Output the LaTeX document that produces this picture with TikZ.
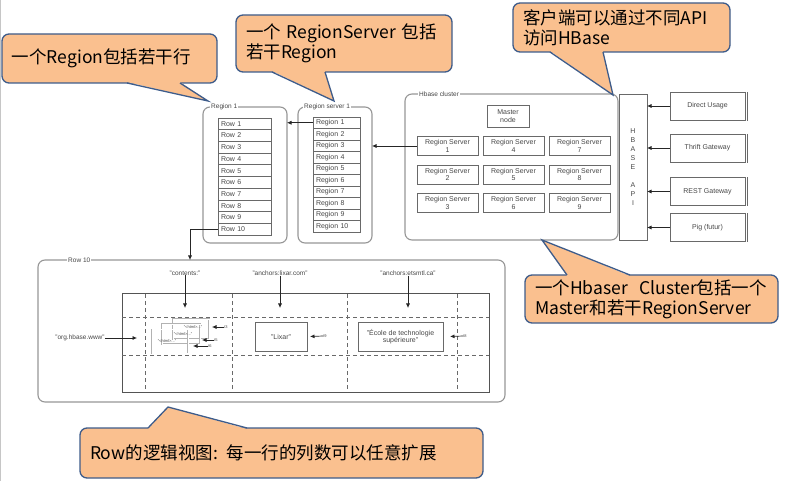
\documentclass[tikz,border=0pt]{standalone}
\usepackage{fontspec}
\setmainfont{Liberation Sans}
\newfontfamily\cjk{Noto Sans CJK SC}
\usetikzlibrary{arrows.meta,calc}

\definecolor{callfill}{RGB}{250,192,143}
\definecolor{callline}{RGB}{62,92,138}
\definecolor{frame}{RGB}{150,150,150}
\definecolor{cellline}{RGB}{105,105,105}
\definecolor{txt}{RGB}{70,70,70}

\begin{document}
\begin{tikzpicture}[x=1pt, y=-1pt,
    callout/.style={rectangle, rounded corners=7, fill=callfill, draw=callline, line width=1.3,
        inner xsep=10, inner ysep=0, outer sep=0, align=left, font=\cjk\fontsize{17.5}{20}\selectfont},
    tailfill/.style={fill=callfill},
    tailline/.style={draw=callline, line width=1.3, line join=miter},
    grp/.style={draw=frame, line width=1.1, rounded corners=7, inner sep=0, outer sep=0},
    grplabel/.style={fill=white, inner sep=1, anchor=west, text=txt, font=\fontsize{6.5}{7}\selectfont},
    cellbox/.style={draw=cellline, line width=0.7, inner sep=0, outer sep=0, text=txt, font=\fontsize{7}{7.5}\selectfont},
    listcell/.style={cellbox, anchor=north west, align=left, inner xsep=3},
    htmlbox/.style={draw=gray!60, double=white, double distance=0.6, line width=0.5, inner sep=0, outer sep=0},
    lbl/.style={inner sep=0, text=txt, font=\fontsize{6.5}{7}\selectfont},
    tiny/.style={inner sep=0, text=txt, font=\fontsize{4}{4.5}\selectfont},
    arr/.style={-{Latex[length=4.5,width=4]}, draw=black!85, line width=0.7},
    dashline/.style={draw=cellline, line width=0.9, dash pattern=on 4pt off 3pt}
]
\useasboundingbox (0,0) rectangle (785,481);
\draw[gray!45, line width=1.2] (0.6,0) -- (0.6,481);

% Region 1
\node[grp, minimum width=84, minimum height=136] (region) at (245,175) {};
\node[grplabel] (regionlbl) at (210,107) {Region 1};
\foreach \i in {1,...,10}
    \node[listcell, text width=47, minimum height=11.7] (row\i) at (218,{118+11.7*(\i-1)}) {Row \i};

% Region server 1
\node[grp, minimum width=74, minimum height=136] (rserver) at (335,175) {};
\node[grplabel] (rserverlbl) at (303,107) {Region server 1};
\foreach \i in {1,...,10}
    \node[listcell, text width=41, minimum height=11.5] (reg\i) at (313,{117+11.5*(\i-1)}) {Region \i};
\draw[arr] (reg1.west) -- (reg1.west -| region.east);

% Hbase cluster
\node[grp, minimum width=213, minimum height=146] (cluster) at (511.5,167) {};
\node[grplabel] (clusterlbl) at (418,94) {Hbase cluster};
\node[cellbox, minimum width=42, minimum height=22, align=center] (master) at (508,116) {Master\\node};
\foreach \c/\x in {0/447.5,1/513.5,2/579.5}
    \foreach \r/\y in {1/146,2/174.5,3/203}{
        \pgfmathtruncatemacro{\n}{3*\c+\r}
        \node[cellbox, minimum width=61, minimum height=19, align=center] (rs\n) at (\x,\y) {Region Server\\\n};
    }
\draw[arr] (rs1.west) -- (rs1.west -| rserver.east);

% API and clients
\node[cellbox, minimum width=28, minimum height=146, align=center, font=\fontsize{7}{8.9}\selectfont] (api) at (633,167) {H\\B\\A\\S\\E\\~\\A\\P\\I};
\foreach \name/\y/\t in {direct/106/Direct Usage, thrift/148/Thrift Gateway, rest/191.5/REST Gateway, pig/227.5/Pig (futur)}{
    \node[cellbox, minimum width=75, minimum height=28] (\name) at (707.5,\y) {\t};
    \draw[cellline, line width=0.7] ([xshift=2pt]\name.north east) -- ([xshift=2pt,yshift=-1pt]\name.south east);
    \draw[arr] (\name.west) -- (\name.west -| api.east);
}

% Row 10 view
\node[grp, minimum width=467, minimum height=142] (rowview) at (271.5,331) {};
\node[grplabel] (rowviewlbl) at (67,260) {Row 10};
\coordinate (drop) at (190,260);
\draw[arr] (row10.west) -| (drop);

\node[draw=cellline!80!black, line width=1, minimum width=367, minimum height=98, inner sep=0, outer sep=0] (grid) at (305.5,343) {};
\foreach \x in {145,232,347,457}
    \draw[dashline] (\x,294) -- (\x,392);
\foreach \y in {317,355}
    \draw[dashline] (122,\y) -- (489,\y);

\node[lbl] (colcont) at (185,273) {"contents:"};
\node[lbl] (collixar) at (280,273) {"anchors:lixar.com"};
\node[lbl] (colets) at (408,273) {"anchors:etsmtl.ca"};
\coordinate (conttip) at (185,308);
\coordinate (lixartip) at (280,308);
\coordinate (etstip) at (408,308);
\draw[arr] (colcont) -- (conttip);
\draw[arr] (collixar) -- (lixartip);
\draw[arr] (colets) -- (etstip);

\node[lbl] (rowkey) at (80,338) {"org.hbase.www"};
\coordinate (keytip) at (137,338);
\draw[arr] (rowkey) -- (keytip);

% cells
\node[htmlbox, minimum width=36, minimum height=20] (html1) at (191,329) {};
\node[htmlbox, minimum width=38, minimum height=20] (html2) at (181,334) {};
\node[htmlbox, minimum width=36, minimum height=24] (html3) at (170,341.5) {};
\node[tiny] (html1txt) at (193,327) {"<html>..."};
\node[tiny] (html2txt) at (183,334) {"<html>..."};
\node[tiny] (html3txt) at (167,341) {"<html>..."};
\node[tiny] (t3) at (226,327) {t3};
\node[tiny] (t5) at (216,340) {t5};
\node[tiny] (t6) at (210,346) {t6};
\draw[arr] (t3.west) -- ([xshift=3pt]t3.west -| html1.east);
\draw[arr] (t5.west) -- ([xshift=2pt]t5.west -| html2.east);
\draw[arr] (t6.west) -- ([xshift=5pt]t6.west -| html3.east);

\node[cellbox, minimum width=52, minimum height=29] (lixar) at (281,336.5) {"Lixar"};
\node[tiny] (t9) at (325,336) {t9};
\draw[arr] (t9.west) -- ([xshift=3pt]lixar.east);
\node[cellbox, minimum width=85, minimum height=29, align=center] (ecole) at (400.5,336.5) {"École de technologie\\supérieure"};
\node[tiny] (t8) at (465,336) {t8};
\draw[arr] (t8.west) -- ([xshift=7pt]ecole.east);

% callouts
\node[callout, text width=195, minimum height=49] (regioncall) at (109.5,58.5) {一个Region包括若干行};
\fill[tailfill] (127,82) -- (208,101) -- (180,82) -- cycle;
\draw[tailline] (127,83) -- (208,101) -- (180,83);

\node[callout, text width=196, minimum height=57] (servercall) at (344,43.5) {一个 RegionServer 包括\\若干Region};
\fill[tailfill] (272,71) -- (334,101) -- (325,71) -- cycle;
\draw[tailline] (272,72) -- (334,101) -- (325,72);

\node[callout, text width=197, minimum height=49] (apicall) at (621.5,27.5) {客户端可以通过不同API\\访问HBase};
\fill[tailfill] (550,51) -- (613,95) -- (603,51) -- cycle;
\draw[tailline] (550,52) -- (613,95) -- (603,52);

\node[callout, text width=233, minimum height=48] (clustercall) at (651.5,299) {一个Hbaser\ \ Cluster包括一个\\Master和若干RegionServer};
\fill[tailfill] (567,276) -- (542,240) -- (630,276) -- cycle;
\draw[tailline] (567,275) -- (542,240) -- (630,275);

\node[callout, text width=383, minimum height=50] (rowcall) at (281.5,453) {Row的逻辑视图: 每一行的列数可以任意扩展};
\fill[tailfill] (148,429) -- (168,407) -- (247,429) -- cycle;
\draw[tailline] (148,428) -- (168,407) -- (247,428);
\end{tikzpicture}
\end{document}
